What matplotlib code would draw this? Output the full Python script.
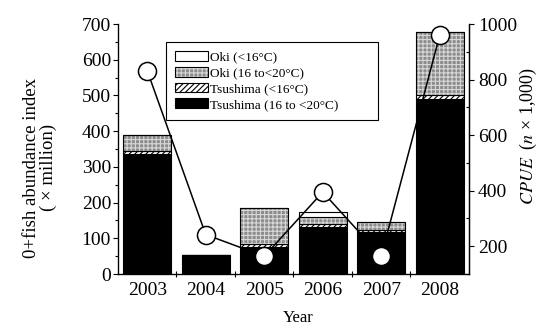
import numpy as np
import matplotlib.pyplot as plt
from matplotlib.ticker import MultipleLocator, FixedLocator
from matplotlib.legend_handler import HandlerTuple

plt.rcParams['font.family'] = ['Liberation Serif', 'DejaVu Serif']
plt.rcParams['mathtext.fontset'] = 'stix'
plt.rcParams['hatch.linewidth'] = 0.8

years = ['2003', '2004', '2005', '2006', '2007', '2008']
# 0+fish abundance index (million), stacked from bottom
tsushima_warm = [336, 52, 76, 132, 118, 491]   # Tsushima (16 to <20 C)
tsushima_cold = [9, 0, 7, 8, 5, 11]            # Tsushima (<16 C)
oki_warm = [44, 0, 102, 20, 24, 177]           # Oki (16 to <20 C)
oki_cold = [0, 0, 0, 13, 0, 0]                 # Oki (<16 C)
# CPUE (n x 1,000)
cpue = [832, 242, 164, 395, 164, 960]

x = np.arange(len(years))
w = 0.82

fig = plt.figure(figsize=(5.4, 3.29), dpi=100)
ax = fig.add_axes([0.2185, 0.167, 0.65, 0.76])

b1 = np.array(tsushima_warm)
b2 = b1 + np.array(tsushima_cold)
b3 = b2 + np.array(oki_warm)

h_tw = ax.bar(x, tsushima_warm, w, color='black', edgecolor='black', lw=0.8)
h_tc = ax.bar(x, tsushima_cold, w, bottom=b1, color='white', edgecolor='black',
              hatch='//////', lw=0.8)
# stippled grey: draw the texture first, then the outline
h_tex = ax.bar(x, oki_warm, w, bottom=b2, color='#8c8c8c', edgecolor='#d8d8d8',
               hatch='++++', lw=0)
h_ow = ax.bar(x, oki_warm, w, bottom=b2, color='none', edgecolor='black', lw=0.8)
h_oc = ax.bar(x, oki_cold, w, bottom=b3, color='white', edgecolor='black', lw=0.8)

ax.set_xlim(-0.5, 5.5)
ax.set_ylim(0, 700)
ax.set_xticks(x)
ax.set_xticklabels(years)
ax.xaxis.set_minor_locator(FixedLocator(x[:-1] + 0.5))
ax.tick_params(axis='x', which='major', length=0, pad=5.5, labelsize=14)
ax.tick_params(axis='x', which='minor', length=4, direction='inout', width=0.8)
ax.yaxis.set_major_locator(MultipleLocator(100))
ax.yaxis.set_minor_locator(MultipleLocator(50))
ax.tick_params(axis='y', which='major', length=3.5, width=0.8, pad=1.5, labelsize=14)
ax.tick_params(axis='y', which='minor', length=2, width=0.8)
ax.spines['top'].set_visible(False)
for s in ['left', 'bottom', 'right']:
    ax.spines[s].set_linewidth(0.9)

ax2 = ax.twinx()
ax2.plot(x, cpue, color='black', lw=1.1, marker='o', ms=13,
         markerfacecolor='white', markeredgecolor='black', markeredgewidth=1.1)
ax2.set_ylim(100, 1000)
ax2.yaxis.set_major_locator(MultipleLocator(200))
ax2.yaxis.set_minor_locator(MultipleLocator(100))
ax2.tick_params(axis='y', which='major', length=3.5, width=0.8, pad=3, labelsize=14)
ax2.tick_params(axis='y', which='minor', length=2.5, width=0.8, direction='in')
ax2.spines['top'].set_visible(False)
ax2.spines['right'].set_linewidth(0.9)

leg = ax2.legend([h_oc, (h_tex, h_ow), h_tc, h_tw],
                 ['Oki (<16°C)', 'Oki (16 to<20°C)', 'Tsushima (<16°C)',
                  'Tsushima (16 to <20°C)'],
                 handler_map={tuple: HandlerTuple(ndivide=1, pad=0)},
                 loc='upper left', bbox_to_anchor=(0.137, 0.928, 0.604, 0.0),
                 mode='expand', fontsize=9.5, frameon=True, fancybox=False,
                 edgecolor='black', framealpha=1, handlelength=2.5,
                 handleheight=0.75, handletextpad=0.15, labelspacing=0.25,
                 borderpad=0.7, borderaxespad=0)
leg.get_frame().set_linewidth(0.8)

ax.set_ylabel('0+fish abundance index\n( × million)', fontsize=13.5,
              linespacing=0.95, va='center', ha='center')
ax.yaxis.set_label_coords(-0.222, 0.426)
ax2.set_ylabel(r'$\it{CPUE}$  ($\it{n}$ × 1,000)', fontsize=13, va='center',
               ha='center')
ax2.yaxis.set_label_coords(1.168, 0.552)
ax.set_xlabel('Year', fontsize=12, va='center', ha='center')
ax.xaxis.set_label_coords(0.5125, -0.176)

fig.savefig('out.png', dpi=100)
